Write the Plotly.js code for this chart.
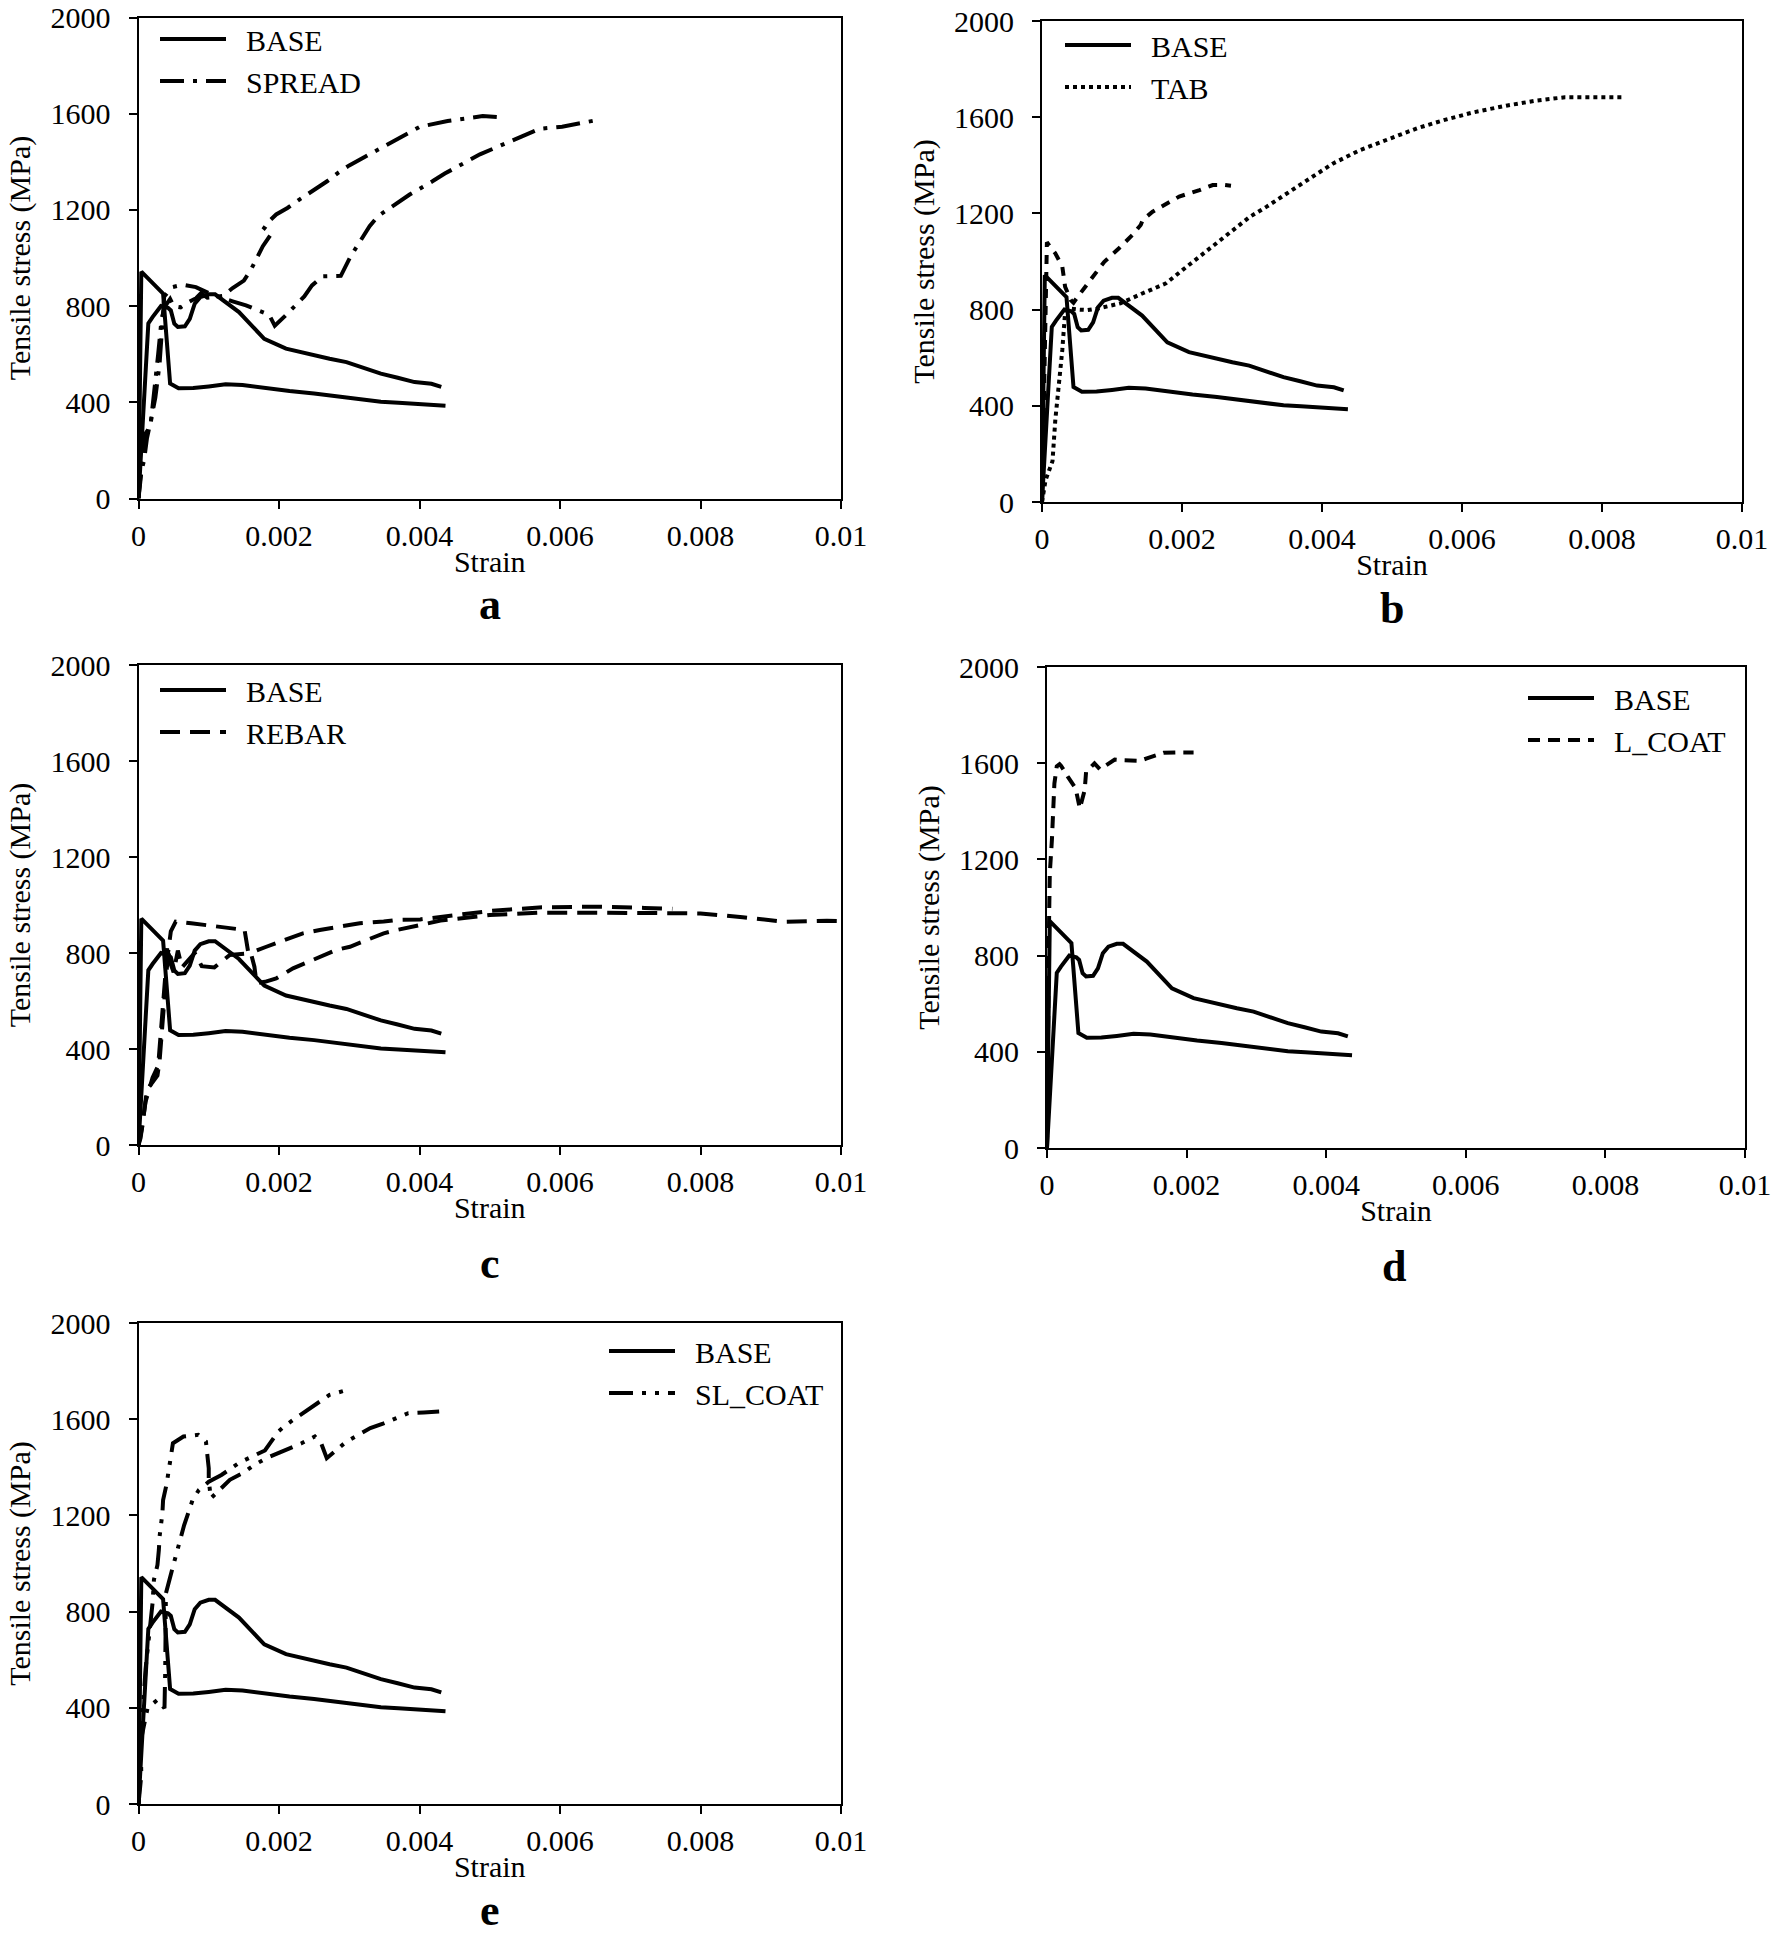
<!DOCTYPE html>
<html>
<head>
<meta charset="utf-8">
<script src="https://cdn.plot.ly/plotly-3.0.1.min.js"></script>
<style>
html,body{margin:0;padding:0;background:#fff;}
#chart{width:1773px;height:1937px;}
</style>
</head>
<body>
<div id="chart"></div>
<script>
// ---------------- DATA ----------------
const xTickVals = [0, 0.002, 0.004, 0.006, 0.008, 0.01];
const xTickText = ['0', '0.002', '0.004', '0.006', '0.008', '0.01'];
const yTickVals = [0, 400, 800, 1200, 1600, 2000];
const yTickText = ['0', '400', '800', '1200', '1600', '2000'];
const panelLetters = ['a', 'b', 'c', 'd', 'e'];
const seriesNames = ['SPREAD', 'TAB', 'REBAR', 'L_COAT', 'SL_COAT'];
const baseName = 'BASE';
const xTitle = 'Strain';
const yTitle = 'Tensile stress (MPa)';

// BASE specimen 1
const baseStrain1 = [0, 0.00004, 0.00035, 0.00045, 0.00057, 0.00078, 0.00100, 0.00124, 0.00148, 0.00170, 0.00188, 0.00215, 0.00250, 0.00282, 0.00315, 0.00345, 0.00370, 0.00393, 0.00415, 0.00437];
const baseStress1 = [0, 943, 852, 478, 458, 459, 466, 475, 472, 463, 456, 447, 437, 425, 413, 402, 398, 393, 389, 386];
// BASE specimen 2
const baseStrain2 = [0, 0.00014, 0.00020, 0.00028, 0.00032, 0.00042, 0.00046, 0.00051, 0.00056, 0.00066, 0.00073, 0.00080, 0.00088, 0.00100, 0.00109, 0.00143, 0.00179, 0.00210, 0.00234, 0.00272, 0.00296, 0.00320, 0.00345, 0.00369, 0.00393, 0.00417, 0.00431];
const baseStress2 = [0, 728, 754, 789, 800, 793, 782, 727, 713, 716, 747, 810, 837, 849, 849, 775, 664, 623, 606, 581, 567, 544, 519, 502, 484, 477, 464];

// SPREAD
const spreadStrain1 = [0, 0.00005, 0.0001, 0.00017, 0.00023, 0.00028, 0.00033, 0.00038, 0.00045, 0.0005, 0.0006, 0.0007, 0.00082, 0.00089, 0.00098, 0.0011, 0.0012, 0.00134, 0.0015, 0.0016, 0.00177, 0.00189, 0.00179, 0.00186, 0.00196, 0.00212, 0.00229, 0.00269, 0.00284, 0.003, 0.00329, 0.0037, 0.004, 0.0044, 0.0047, 0.0049, 0.0051];
const spreadStress1 = [0, 150, 270, 300, 450, 600, 750, 800, 830, 800, 795, 815, 833, 854, 835, 840, 842, 875, 906, 951, 1049, 1101, 1125, 1153, 1181, 1208, 1243, 1320, 1354, 1385, 1432, 1500, 1545, 1570, 1583, 1590, 1586];
const spreadStrain2 = [0, 0.00003, 0.00008, 0.00012, 0.00018, 0.00024, 0.0003, 0.00034, 0.000366, 0.000485, 0.000627, 0.000817, 0.00105, 0.00134, 0.00153, 0.00186, 0.00194, 0.00208, 0.00236, 0.00247, 0.00262, 0.00288, 0.00293, 0.00302, 0.00314, 0.00329, 0.00341, 0.00355, 0.00372, 0.00386, 0.00419, 0.00436, 0.00486, 0.00523, 0.00571, 0.00603, 0.00635, 0.00655];
const spreadStress2 = [0, 100, 160, 250, 330, 420, 560, 760, 840, 879, 889, 879, 847, 820, 803, 764, 718, 757, 840, 886, 924, 926, 958, 1007, 1063, 1132, 1174, 1201, 1233, 1264, 1320, 1351, 1431, 1478, 1537, 1546, 1563, 1575];

// TAB
const tabStrain1 = [0, 0.00002, 0.00005, 0.00007, 0.00012, 0.00019, 0.00029, 0.00031, 0.00033, 0.00041, 0.00045, 0.00053, 0.00067, 0.00089, 0.0011, 0.00129, 0.00141, 0.00144, 0.00158, 0.00167, 0.00187, 0.00196, 0.00225, 0.00244, 0.00261, 0.0027];
const tabStress1 = [0, 300, 800, 1080, 1060, 1034, 979, 937, 895, 840, 829, 861, 916, 999, 1055, 1110, 1152, 1173, 1207, 1221, 1256, 1270, 1297, 1318, 1318, 1315];
const tabStrain2 = [0, 0.00005, 0.0001, 0.00015, 0.00019, 0.00024, 0.00029, 0.00033, 0.0004, 0.00053, 0.00065, 0.00081, 0.00112, 0.00144, 0.00177, 0.00201, 0.00225, 0.00254, 0.00278, 0.00297, 0.00321, 0.00349, 0.00383, 0.00416, 0.00455, 0.00498, 0.00536, 0.00574, 0.00616, 0.00665, 0.00706, 0.00747, 0.0079, 0.0083];
const tabStress2 = [0, 90, 130, 170, 341, 480, 632, 790, 805, 800, 798, 805, 826, 868, 909, 965, 1020, 1089, 1145, 1186, 1228, 1283, 1346, 1408, 1464, 1512, 1554, 1588, 1620, 1649, 1669, 1683, 1683, 1683];

// REBAR
const rebarStrain1 = [0, 0.00005, 0.00012, 0.00027, 0.0003, 0.00033, 0.00038, 0.00042, 0.00046, 0.00053, 0.00075, 0.0013, 0.00151, 0.00156, 0.0016, 0.00182, 0.00201, 0.00234, 0.00258, 0.00291, 0.00315, 0.00349, 0.00368, 0.00401, 0.0045, 0.005, 0.0057, 0.0065, 0.0072, 0.0076];
const rebarStress1 = [0, 70, 230, 290, 350, 470, 620, 800, 890, 931, 924, 903, 896, 806, 801, 826, 847, 882, 896, 910, 924, 931, 938, 940, 958, 975, 990, 993, 988, 984];
const rebarStrain2 = [0, 0.00003, 0.0001, 0.0002, 0.00028, 0.00033, 0.00038, 0.00041, 0.00045, 0.0005, 0.00056, 0.00062, 0.0008, 0.0009, 0.00108, 0.0013, 0.0016, 0.00165, 0.00168, 0.0018, 0.00196, 0.0022, 0.00249, 0.00282, 0.00301, 0.0033, 0.00349, 0.00368, 0.0043, 0.005, 0.0057, 0.0065, 0.0076, 0.008, 0.0086, 0.0092, 0.0098, 0.01];
const rebarStress2 = [0, 30, 180, 280, 330, 500, 700, 830, 760, 720, 810, 740, 800, 745, 740, 792, 799, 743, 674, 680, 694, 736, 771, 813, 826, 861, 882, 896, 935, 958, 968, 968, 968, 965, 949, 930, 934, 933];

// L_COAT
const lcoatStrain = [0, 0.00001, 0.00003, 0.00004, 0.00007, 0.000106, 0.00014, 0.00018, 0.0002, 0.0003, 0.00041, 0.00047, 0.00054, 0.00056, 0.00068, 0.00076, 0.00097, 0.00109, 0.00133, 0.00143, 0.00167, 0.0019, 0.0021];
const lcoatStress = [0, 500, 950, 1142, 1280, 1516, 1587, 1596, 1590, 1543, 1495, 1412, 1488, 1564, 1599, 1574, 1615, 1612, 1610, 1620, 1643, 1645, 1645];

// SL_COAT
const slcoatStrain1 = [0, 0.00004, 0.0001, 0.00016, 0.0002, 0.00022, 0.00027, 0.00029, 0.0003, 0.00034, 0.00035, 0.0004, 0.00043, 0.00049, 0.00064, 0.00085, 0.00096, 0.001, 0.001, 0.00103, 0.0013, 0.00148, 0.00165, 0.00182, 0.00232, 0.00251, 0.0026, 0.00268, 0.00296, 0.00313, 0.0033, 0.00349, 0.00384, 0.00406, 0.00428];
const slcoatStress1 = [0, 300, 560, 720, 835, 933, 994, 1057, 1112, 1209, 1264, 1330, 1389, 1500, 1528, 1535, 1507, 1396, 1345, 1271, 1348, 1375, 1410, 1438, 1500, 1528, 1500, 1438, 1507, 1535, 1563, 1583, 1625, 1628, 1632];
const slcoatStrain2 = [0, 0.00004, 0.00003, 0.00013, 0.00027, 0.00034, 0.00037, 0.00038, 0.00038, 0.00039, 0.00049, 0.00054, 0.00059, 0.00065, 0.00077, 0.00086, 0.001, 0.00118, 0.00144, 0.0018, 0.00199, 0.0021, 0.00227, 0.00244, 0.00272, 0.00295];
const slcoatStress2 = [0, 120, 260, 400, 433, 412, 398, 550, 700, 876, 987, 1045, 1102, 1160, 1264, 1306, 1340, 1368, 1420, 1470, 1549, 1576, 1611, 1646, 1701, 1720];

// ---------------- LAYOUT ----------------
const W = 1773, H = 1937;
const FONT = 'Liberation Serif';
const LW = 4;
// panel boxes in px: [left, right, top, bottom]
const boxes = [
  [138.5, 841, 17.5, 498.5],
  [1042, 1742, 21, 502],
  [138.5, 841, 665, 1145],
  [1047, 1745, 667, 1148],
  [138.5, 841, 1323, 1804]
];
// legend top-left positions in px
const legendPos = [
  [155, 13], [1060, 19], [155, 664], [1523, 672], [604, 1325]
];
// panel letter positions in px: [x, y, anchor]
const letterPos = [[490, 605, 'middle'], [1392, 608, 'middle'], [490, 1263, 'middle'], [1394, 1266, 'middle'], [490, 1936, 'bottom']];
const gap = '\u2002';

const seriesData = [
  [[spreadStrain1, spreadStress1], [spreadStrain2, spreadStress2]],
  [[tabStrain2, tabStress2], [tabStrain1, tabStress1]],
  [[rebarStrain1, rebarStress1], [rebarStrain2, rebarStress2]],
  [[lcoatStrain, lcoatStress]],
  [[slcoatStrain1, slcoatStress1], [slcoatStrain2, slcoatStress2]]
];
const seriesDash = [
  ['24px,9px,4px,9px', '24px,9px,4px,9px'],
  ['4px,4px', '9px,8px'],
  ['20px,10px', '20px,10px'],
  ['12px,8px'],
  ['24px,9px,4px,9px,4px,9px', '24px,9px,4px,9px,4px,9px']
];

const traces = [];
const layout = {
  width: W, height: H,
  margin: {l: 0, r: 0, t: 0, b: 0},
  paper_bgcolor: '#fff', plot_bgcolor: '#fff',
  font: {family: FONT, size: 30, color: '#000'},
  showlegend: true,
  annotations: []
};

for (let i = 0; i < 5; i++) {
  const s = i === 0 ? '' : String(i + 1);
  const xa = 'x' + s, ya = 'y' + s, lg = 'legend' + s;
  const b = boxes[i];
  layout['xaxis' + s] = {
    domain: [b[0] / W, b[1] / W],
    anchor: ya,
    range: [0, 0.01],
    tickvals: xTickVals, ticktext: xTickText,
    ticks: 'outside', ticklen: 8, tickwidth: 2, tickcolor: '#000',
    showline: true, linewidth: 2, linecolor: '#000', mirror: true,
    showgrid: false, zeroline: false,
    tickfont: {family: FONT, size: 30, color: '#000'},
    ticklabelstandoff: 1,
    title: {text: xTitle, font: {family: FONT, size: 30, color: '#000'}, standoff: 0},
    fixedrange: true
  };
  layout['yaxis' + s] = {
    domain: [1 - b[3] / H, 1 - b[2] / H],
    anchor: xa,
    range: [0, 2000],
    tickvals: yTickVals, ticktext: yTickText,
    ticks: 'outside', ticklen: 8, tickwidth: 2, tickcolor: '#000',
    showline: true, linewidth: 2, linecolor: '#000', mirror: true,
    showgrid: false, zeroline: false,
    tickfont: {family: FONT, size: 30, color: '#000'},
    ticklabelstandoff: 12,
    title: {text: yTitle, font: {family: FONT, size: 30, color: '#000'}, standoff: 11},
    fixedrange: true
  };
  const lp = legendPos[i];
  layout[lg] = {
    x: lp[0] / W, y: 1 - lp[1] / H, xanchor: 'left', yanchor: 'top',
    xref: 'paper', yref: 'paper',
    bgcolor: 'rgba(0,0,0,0)', borderwidth: 0,
    font: {family: FONT, size: 30, color: '#000'},
    itemwidth: 66, tracegroupgap: 0
  };
  // BASE
  traces.push({x: baseStrain1, y: baseStress1, xaxis: xa, yaxis: ya, legend: lg,
    type: 'scatter', mode: 'lines', name: gap + baseName, legendgroup: 'base' + i,
    line: {color: '#000', width: LW}, showlegend: true});
  traces.push({x: baseStrain2, y: baseStress2, xaxis: xa, yaxis: ya, legend: lg,
    type: 'scatter', mode: 'lines', name: gap + baseName, legendgroup: 'base' + i,
    line: {color: '#000', width: LW}, showlegend: false});
  seriesData[i].forEach((d, k) => {
    traces.push({x: d[0], y: d[1], xaxis: xa, yaxis: ya, legend: lg,
      type: 'scatter', mode: 'lines', name: gap + seriesNames[i], legendgroup: 'ser' + i,
      line: {color: '#000', width: LW, dash: seriesDash[i][k]}, showlegend: k === 0});
  });
  const L = letterPos[i];
  layout.annotations.push({
    text: '<b>' + panelLetters[i] + '</b>', xref: 'paper', yref: 'paper',
    x: L[0] / W, y: 1 - L[1] / H, xanchor: 'center', yanchor: L[2],
    showarrow: false, borderpad: 0, font: {family: FONT, size: 44, color: '#000'}
  });
}

Plotly.newPlot('chart', traces, layout, {displayModeBar: false, staticPlot: true});
</script>
</body>
</html>
